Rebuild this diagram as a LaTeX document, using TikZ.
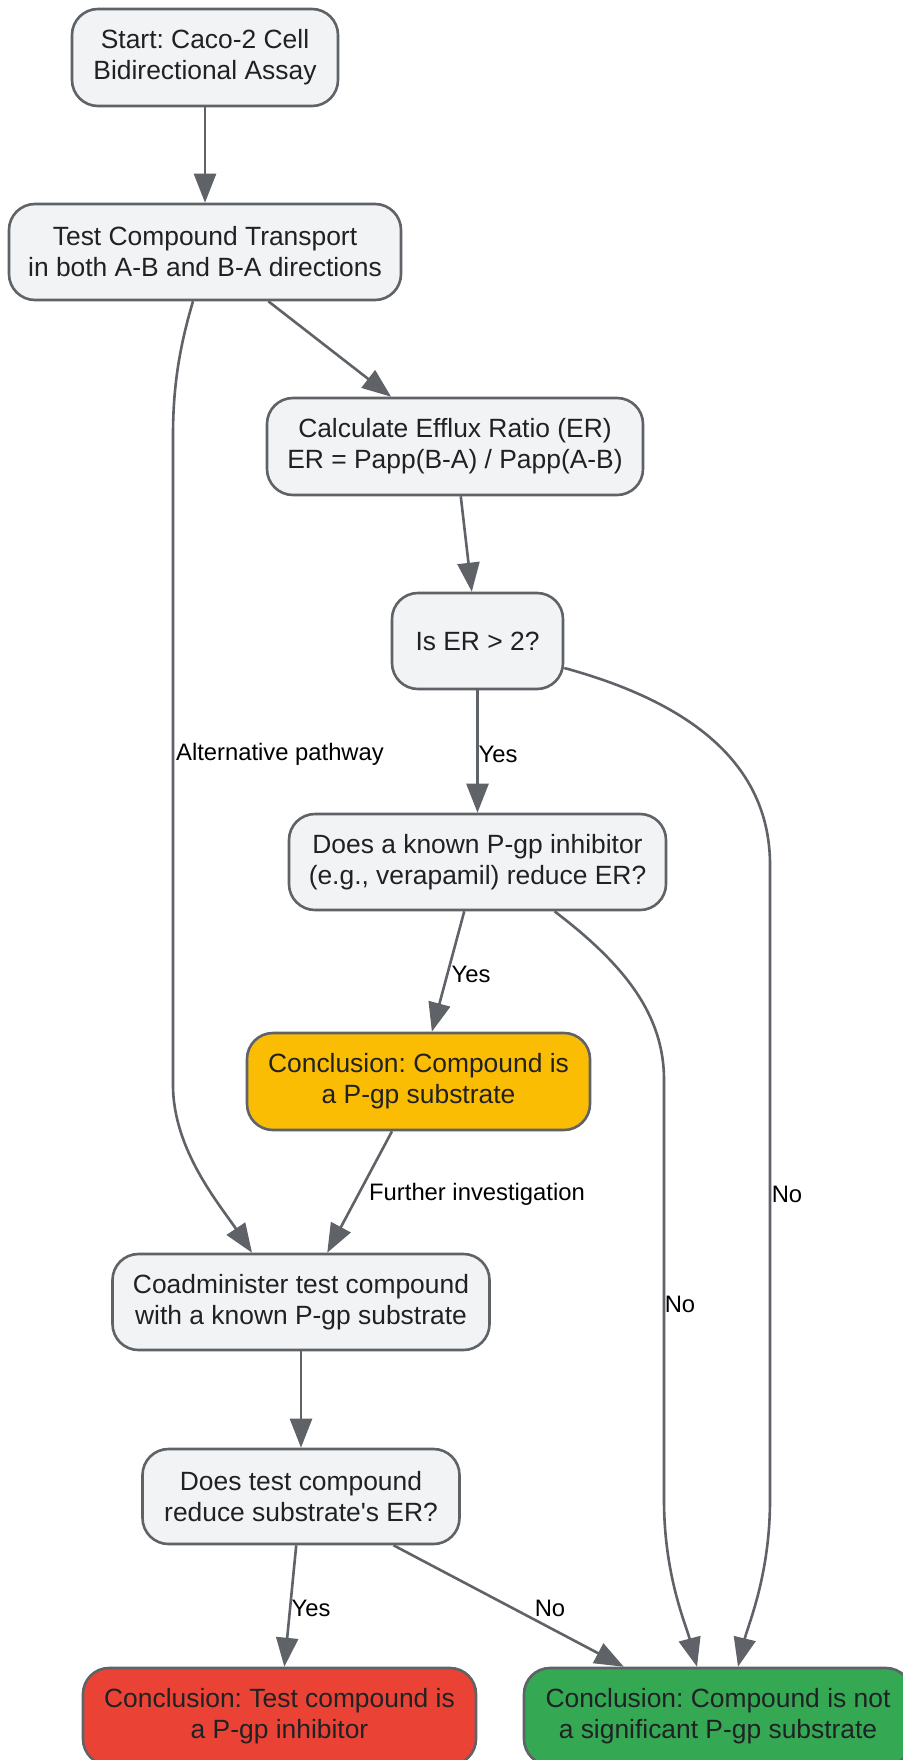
\documentclass[tikz,border=0pt]{standalone}
\usepackage{fontspec}
\setmainfont{Liberation Sans}
\usetikzlibrary{arrows.meta,calc}
\definecolor{stroke}{HTML}{5F6368}
\definecolor{boxfill}{HTML}{F1F3F4}
\definecolor{txt}{HTML}{202124}
\definecolor{yel}{HTML}{FBBC04}
\definecolor{redc}{HTML}{EA4335}
\definecolor{grn}{HTML}{34A853}
\frenchspacing
\begin{document}
\begin{tikzpicture}[x=0.5pt,y=-0.5pt,
  box/.style={draw=stroke, line width=1.3pt, fill=boxfill, rounded corners=13pt,
    align=center, font=\fontsize{13.2}{15.5}\selectfont, text=txt, inner sep=0pt},
  lbl/.style={font=\fontsize{11.9}{14}\selectfont, text=black, inner sep=0pt},
  arr/.style={draw=stroke, line width=1.3pt, -{Triangle[length=14.5pt,width=11pt]}}]
\useasboundingbox (0,0) rectangle (903,1760);
\clip (0,0) rectangle (903,1760);
\fill[white] (0,0) rectangle (903,1760);

\node[box, minimum width=133pt, minimum height=48.5pt] (start) at (205,57.5) {Start: Caco-2 Cell\\Bidirectional Assay};
\node[box, minimum width=196pt, minimum height=48pt] (test) at (205,252) {Test Compound Transport\\in both A-B and B-A directions};
\node[box, minimum width=188pt, minimum height=48.5pt] (calc) at (455,446.5) {Calculate Efflux Ratio (ER)\\ER = Papp(B-A) / Papp(A-B)};
\node[box, minimum width=85.5pt, minimum height=48pt] (iser) at (477.5,641) {Is ER > 2?};
\node[box, minimum width=188.5pt, minimum height=48pt] (known) at (477.5,862) {Does a known P-gp inhibitor\\(e.g., verapamil) reduce ER?};
\node[box, fill=yel, minimum width=171.5pt, minimum height=48.5pt] (sub) at (418.5,1081.5) {Conclusion: Compound is\\a P-gp substrate};
\node[box, minimum width=188.5pt, minimum height=48pt] (coad) at (301,1302) {Coadminister test compound\\with a known P-gp substrate};
\node[box, minimum width=158.5pt, minimum height=47.5pt] (dtest) at (301,1496.5) {Does test compound\\reduce substrate\textquotesingle s ER?};
\node[box, fill=redc, minimum width=196.5pt, minimum height=48.5pt] (inh) at (279.5,1716.5) {Conclusion: Test compound is\\a P-gp inhibitor};
\node[box, fill=grn, minimum width=194pt, minimum height=48.5pt] (nots) at (718,1716.5) {Conclusion: Compound is not\\a significant P-gp substrate};

\draw[arr] (start) -- (test);
\draw[arr] (test) -- (calc);
\draw[arr] ($(test.south)+(-12,0)$) .. controls (180,345) and (173,385) .. (173,435) -- (173,1085) .. controls (173,1150) and (220,1205) .. ($(coad.north)+(-49,0)$);
\draw[arr] (calc) -- (iser);
\draw[arr] (iser) -- (known);
\draw[arr] ($(iser.east)+(0,27)$) .. controls (700,705) and (770,770) .. (770,865) -- (770,1500) .. controls (770,1575) and (748,1625) .. ($(nots.north)+(20,0)$);
\draw[arr] (known) -- (sub);
\draw[arr] ($(known.south)+(77,0)$) .. controls (625,965) and (664,1015) .. (664,1080) -- (664,1500) .. controls (664,1575) and (686,1625) .. ($(nots.north)+(-21,0)$);
\draw[arr] (sub) -- (coad);
\draw[arr] (coad) -- (dtest);
\draw[arr] (dtest) -- (inh);
\draw[arr] (dtest) -- (nots);

\node[lbl] (l1) at (280,754) {Alternative pathway};
\node[lbl] (l2) at (498,754) {Yes};
\node[lbl] (l3) at (471,974) {Yes};
\node[lbl] (l4) at (477,1194) {Further investigation};
\node[lbl] (l5) at (787,1194) {No};
\node[lbl] (l6) at (680,1304) {No};
\node[lbl] (l7) at (311,1608) {Yes};
\node[lbl] (l8) at (550,1608) {No};
\end{tikzpicture}
\end{document}
